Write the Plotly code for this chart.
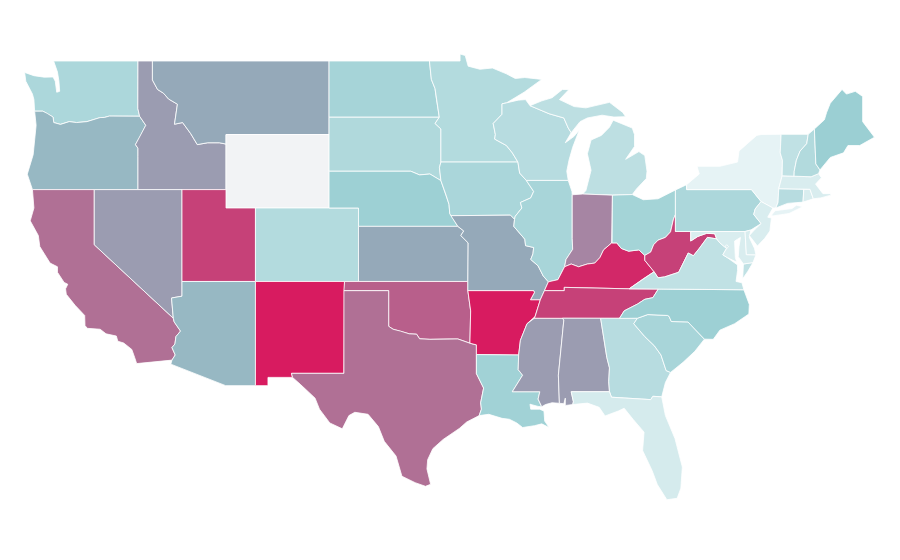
import plotly.graph_objects as go
from plotly.colors import sample_colorscale

# State shading (0-1 on the colour scale); Wyoming has no data.
states = ["WA","OR","CA","ID","NV","MT","WY","UT","AZ","CO","NM","ND","SD","NE","KS","OK","TX","MN","IA","MO","AR","LA","WI","IL","MS","MI","IN","KY","TN","AL","OH","WV","GA","FL","SC","NC","VA","PA","NY","MD","DE","NJ","CT","RI","MA","VT","NH","ME","DC"]
values = [0.31,0.46,0.70,0.545,0.545,0.50,None,0.865,0.46,0.27,1.00,0.34,0.29,0.39,0.50,0.76,0.70,0.27,0.32,0.50,1.00,0.37,0.25,0.33,0.545,0.22,0.625,0.955,0.865,0.545,0.35,0.865,0.25,0.09,0.33,0.39,0.20,0.31,0.0,0.07,0.07,0.07,0.25,0.07,0.07,0.20,0.28,0.40,0.10]
colorscale = [[0,"#e6f3f5"],[0.4,"#9bcfd3"],[0.5,"#95a9b9"],[1,"#d81b60"]]
nodata_color = "#f2f3f5"

# State outlines as (longitude, latitude) rings, approximated by hand.
outlines = {
"WA":[[(-122.76,49),(-117.03,49),(-117.04,46.42),(-116.92,45.995),(-118.98,46),(-119.3,45.93),(-119.6,45.92),(-120.5,45.7),(-121.2,45.65),(-121.7,45.7),(-122.3,45.55),(-122.75,45.65),(-122.8,45.95),(-123.2,46.15),(-123.5,46.27),(-124.05,46.27),(-124.05,46.7),(-124.1,46.9),(-124.2,47.2),(-124.65,47.9),(-124.73,48.38),(-124.1,48.2),(-123.4,48.12),(-122.8,48.13),(-122.65,47.9),(-122.55,47.3),(-122.35,47.35),(-122.4,47.9),(-122.5,48.4)]],
"OR":[[(-124.05,46.27),(-123.5,46.27),(-123.2,46.15),(-122.8,45.95),(-122.75,45.65),(-122.3,45.55),(-121.7,45.7),(-121.2,45.65),(-120.5,45.7),(-119.6,45.92),(-119.3,45.93),(-118.98,46),(-116.92,45.995),(-116.5,45.5),(-116.85,44.95),(-117.2,44.45),(-117.03,44.25),(-117.03,43.8),(-117.03,42),(-124.2,42),(-124.55,42.84),(-124.15,43.9),(-124.05,44.7),(-123.95,45.5)]],
"CA":[[(-124.2,42),(-120,42),(-120,39),(-114.63,35),(-114.57,34.8),(-114.14,34.3),(-114.45,34),(-114.52,33.6),(-114.72,33.4),(-114.5,33),(-114.72,32.72),(-117.12,32.53),(-117.25,32.85),(-117.45,33.3),(-118,33.65),(-118.4,33.75),(-118.5,34.03),(-119.2,34.15),(-119.6,34.4),(-120.47,34.45),(-120.63,34.6),(-120.65,35.15),(-121.3,35.7),(-121.9,36.3),(-121.95,36.6),(-121.8,36.85),(-122.05,36.95),(-122.5,37.5),(-122.5,37.8),(-123,38),(-123.7,38.9),(-123.8,39.5),(-124.35,40.3),(-124.1,41)]],
"NV":[[(-120,42),(-114.04,42),(-114.04,36.2),(-114.75,36.1),(-114.63,35),(-120,39)]],
"ID":[[(-117.03,49),(-116.05,49),(-116.05,47.97),(-115.7,47.45),(-115.3,47.25),(-114.95,46.93),(-114.35,46.65),(-114.45,46.15),(-114.55,45.56),(-114,45.65),(-113.45,45.05),(-113,44.45),(-112.3,44.55),(-111.5,44.55),(-111.05,44.48),(-111.05,42),(-114.04,42),(-117.03,42),(-117.03,43.8),(-117.03,44.25),(-117.2,44.45),(-116.85,44.95),(-116.5,45.5),(-116.92,45.995),(-117.04,46.42)]],
"MT":[[(-116.05,49),(-104.05,49),(-104.05,45),(-111.05,45),(-111.05,44.48),(-111.5,44.55),(-112.3,44.55),(-113,44.45),(-113.45,45.05),(-114,45.65),(-114.55,45.56),(-114.45,46.15),(-114.35,46.65),(-114.95,46.93),(-115.3,47.25),(-115.7,47.45),(-116.05,47.97)]],
"WY":[[(-111.05,45),(-104.05,45),(-104.05,41),(-111.05,41)]],
"UT":[[(-114.04,42),(-111.05,42),(-111.05,41),(-109.05,41),(-109.05,37),(-114.04,37)]],
"AZ":[[(-114.04,37),(-109.05,37),(-109.05,31.33),(-111.07,31.33),(-114.8,32.5),(-114.72,32.72),(-114.5,33),(-114.72,33.4),(-114.52,33.6),(-114.45,34),(-114.14,34.3),(-114.57,34.8),(-114.63,35),(-114.75,36.1),(-114.04,36.2)]],
"CO":[[(-109.05,41),(-102.05,41),(-102.05,37),(-109.05,37)]],
"NM":[[(-109.05,37),(-103,37),(-103.04,32),(-106.6,32),(-106.53,31.78),(-108.2,31.78),(-108.2,31.33),(-109.05,31.33)]],
"TX":[[(-103.04,36.5),(-100,36.5),(-100,34.56),(-99.7,34.4),(-99.2,34.3),(-98.6,34.15),(-98.1,34.13),(-97.9,33.88),(-97.2,33.85),(-96.6,33.85),(-95.9,33.87),(-95.3,33.87),(-94.48,33.64),(-94.04,33.55),(-94.04,33.02),(-94.04,31.99),(-93.55,31.2),(-93.75,30.4),(-93.7,30.05),(-93.85,29.7),(-94.7,29.35),(-95.2,29),(-96.3,28.4),(-97,27.9),(-97.35,27.3),(-97.4,26.8),(-97.15,25.96),(-97.5,25.85),(-98.2,26.05),(-99.1,26.4),(-99.5,27.5),(-100.3,28.3),(-100.7,29.1),(-101.4,29.77),(-102.3,29.88),(-102.7,29.7),(-103.15,28.98),(-104,29.3),(-104.7,30.05),(-105,30.65),(-106,31.4),(-106.53,31.78),(-106.6,32),(-103.04,32)]],
"OK":[[(-103,37),(-94.62,37),(-94.62,36.5),(-94.43,35.4),(-94.48,33.64),(-95.3,33.87),(-95.9,33.87),(-96.6,33.85),(-97.2,33.85),(-97.9,33.88),(-98.1,34.13),(-98.6,34.15),(-99.2,34.3),(-99.7,34.4),(-100,34.56),(-100,36.5),(-103.04,36.5)]],
"KS":[[(-102.05,40),(-95.3,40),(-94.9,39.75),(-95.1,39.5),(-94.6,39.1),(-94.62,37),(-102.05,37)]],
"NE":[[(-104.05,43),(-98.5,43),(-97.9,42.8),(-97.2,42.85),(-96.45,42.49),(-96.1,41.7),(-95.9,41.2),(-95.85,40.7),(-95.3,40),(-102.05,40),(-102.05,41),(-104.05,41)]],
"SD":[[(-104.05,45.94),(-96.56,45.94),(-96.85,45.6),(-96.45,45.3),(-96.45,43.5),(-96.55,43.2),(-96.45,42.49),(-97.2,42.85),(-97.9,42.8),(-98.5,43),(-104.05,43)]],
"ND":[[(-104.05,49),(-97.23,49),(-97.1,48),(-96.85,47.5),(-96.75,46.9),(-96.56,45.94),(-104.05,45.94)]],
"MN":[[(-97.23,49),(-95.15,49),(-95.15,49.38),(-94.8,49.3),(-94.6,48.72),(-93.8,48.55),(-92.95,48.62),(-92,48.3),(-91.4,48.05),(-90.75,48.1),(-89.6,48),(-90.8,47.3),(-92,46.72),(-92.3,46.67),(-92.3,46.1),(-92.9,45.6),(-92.75,45),(-92.8,44.75),(-92,44.4),(-91.6,44),(-91.22,43.5),(-96.45,43.5),(-96.45,45.3),(-96.85,45.6),(-96.56,45.94),(-96.75,46.9),(-96.85,47.5),(-97.1,48)]],
"IA":[[(-96.45,43.5),(-91.22,43.5),(-91.1,42.9),(-90.65,42.5),(-90.15,41.9),(-90.35,41.55),(-91.05,41.3),(-90.95,41),(-91.4,40.55),(-91.45,40.38),(-91.73,40.61),(-95.77,40.58),(-95.85,40.7),(-95.9,41.2),(-96.1,41.7),(-96.45,42.49),(-96.55,43.2)]],
"MO":[[(-95.77,40.58),(-91.73,40.61),(-91.45,40.38),(-91.5,40),(-90.75,39.3),(-90.7,38.95),(-90.15,38.85),(-90.2,38.5),(-90.35,38.2),(-89.85,37.85),(-89.5,37.3),(-89.15,36.98),(-89.42,36.5),(-89.7,36),(-90.37,36),(-90.1,36.4),(-90.15,36.5),(-94.62,36.5),(-94.62,37),(-94.6,39.1),(-95.1,39.5),(-94.9,39.75),(-95.3,40)]],
"AR":[[(-94.62,36.5),(-90.15,36.5),(-90.1,36.4),(-90.37,36),(-89.7,36),(-90.05,35.1),(-90.6,34.7),(-91.05,33.8),(-91.17,33),(-94.04,33.02),(-94.04,33.55),(-94.48,33.64),(-94.43,35.4)]],
"LA":[[(-94.04,33.02),(-91.17,33),(-91.2,32.2),(-90.9,31.9),(-91.6,31),(-89.73,31),(-89.85,30.6),(-89.6,30.18),(-89.85,30.2),(-90.4,30.32),(-90.35,30.05),(-89.75,30.05),(-89.45,29.95),(-89.4,29.4),(-89.1,29.05),(-89.6,29.25),(-90.1,29.15),(-90.9,29.05),(-91.3,29.3),(-91.8,29.5),(-92.3,29.55),(-93.2,29.77),(-93.85,29.7),(-93.7,30.05),(-93.75,30.4),(-93.55,31.2),(-94.04,31.99)]],
"MS":[[(-90.1,35),(-88.2,35),(-88.1,34.9),(-88.47,31.9),(-88.4,30.37),(-88.9,30.4),(-89.35,30.3),(-89.6,30.18),(-89.85,30.6),(-89.73,31),(-91.6,31),(-90.9,31.9),(-91.2,32.2),(-91.17,33),(-91.05,33.8),(-90.6,34.7)]],
"AL":[[(-88.2,35),(-85.6,35),(-85.18,32.87),(-85,32.3),(-85.05,31.55),(-85,31),(-87.6,31),(-87.45,30.45),(-87.5,30.3),(-88,30.25),(-88,30.65),(-88.1,30.35),(-88.4,30.37),(-88.47,31.9),(-88.1,34.9)]],
"TN":[[(-90.1,35),(-90.05,35.1),(-89.7,36),(-89.42,36.5),(-88.07,36.5),(-88.07,36.68),(-83.67,36.6),(-81.68,36.59),(-82.05,36.12),(-82.6,36.03),(-83.1,35.77),(-84,35.4),(-84.32,34.99),(-85.6,35),(-88.2,35)]],
"KY":[[(-89.42,36.5),(-89.15,36.98),(-88.5,37.1),(-88.05,37.8),(-87.6,37.95),(-87.1,37.8),(-86.5,37.95),(-86,38),(-85.65,38.3),(-85.4,38.72),(-84.85,39.1),(-84.5,39.1),(-84.2,38.8),(-83.7,38.65),(-83,38.72),(-82.6,38.42),(-82.6,38.15),(-81.97,37.53),(-82.7,37.15),(-83.67,36.6),(-88.07,36.68),(-88.07,36.5)]],
"WV":[[(-82.6,38.42),(-82.2,38.6),(-82,39),(-81.7,39.25),(-81.2,39.4),(-80.85,39.7),(-80.65,40.4),(-80.52,40.64),(-80.52,39.72),(-79.48,39.72),(-79.48,39.2),(-79,39.45),(-78.4,39.62),(-77.85,39.6),(-77.72,39.32),(-78.35,39.4),(-78.9,38.8),(-79.3,38.4),(-79.65,38.55),(-80.3,37.5),(-81.25,37.25),(-81.7,37.2),(-81.97,37.53),(-82.6,38.15)]],
"OH":[[(-84.8,41.7),(-83.45,41.73),(-82.7,41.45),(-81.7,41.5),(-80.52,41.98),(-80.52,40.64),(-80.65,40.4),(-80.85,39.7),(-81.2,39.4),(-81.7,39.25),(-82,39),(-82.2,38.6),(-82.6,38.42),(-83,38.72),(-83.7,38.65),(-84.2,38.8),(-84.5,39.1),(-84.82,39.1)]],
"IN":[[(-87.53,41.72),(-87.2,41.75),(-86.82,41.76),(-84.8,41.7),(-84.82,39.1),(-84.85,39.1),(-85.4,38.72),(-85.65,38.3),(-86,38),(-86.5,37.95),(-87.1,37.8),(-87.6,37.95),(-88.05,37.8),(-87.95,38.2),(-87.5,38.75),(-87.53,39.35)]],
"IL":[[(-90.65,42.5),(-87.8,42.5),(-87.55,41.9),(-87.53,41.72),(-87.53,39.35),(-87.5,38.75),(-87.95,38.2),(-88.05,37.8),(-88.5,37.1),(-89.15,36.98),(-89.5,37.3),(-89.85,37.85),(-90.35,38.2),(-90.2,38.5),(-90.15,38.85),(-90.7,38.95),(-90.75,39.3),(-91.5,40),(-91.45,40.38),(-91.4,40.55),(-90.95,41),(-91.05,41.3),(-90.35,41.55),(-90.15,41.9)]],
"WI":[[(-92,46.72),(-91.2,46.87),(-90.7,46.9),(-90.4,46.57),(-89.1,46.13),(-88.1,45.9),(-87.8,45.35),(-87.6,45.1),(-88,44.55),(-87.4,44.9),(-87.05,45.25),(-87.5,44.3),(-87.75,43.6),(-87.9,43),(-87.8,42.5),(-90.65,42.5),(-91.1,42.9),(-91.22,43.5),(-91.6,44),(-92,44.4),(-92.8,44.75),(-92.75,45),(-92.9,45.6),(-92.3,46.1),(-92.3,46.67)]],
"MI":[[(-86.82,41.76),(-84.8,41.7),(-83.45,41.73),(-83.15,42.05),(-82.5,42.6),(-82.45,43),(-82.6,43.85),(-83,44.07),(-83.9,43.65),(-83.55,44.05),(-83.3,44.35),(-83.3,45),(-83.45,45.35),(-84.75,45.78),(-85,45.4),(-85.55,44.95),(-86.25,44.7),(-86.5,43.95),(-86.25,43.05),(-86.6,41.95)],
      [(-90.4,46.57),(-89.6,46.83),(-88.9,47),(-88.2,47.45),(-87.75,47.45),(-88.4,46.9),(-87.4,46.52),(-86.6,46.45),(-85,46.75),(-84.5,46.45),(-84.1,46.2),(-83.9,45.97),(-84.7,45.95),(-85.5,46.05),(-86.5,45.9),(-87,45.7),(-87.6,45.1),(-87.8,45.35),(-88.1,45.9),(-89.1,46.13)]],
"PA":[[(-80.52,41.98),(-79.76,42.27),(-79.76,42),(-75.35,42),(-74.7,41.35),(-75.1,40.95),(-75.2,40.65),(-74.7,40.15),(-75.4,39.8),(-75.79,39.72),(-80.52,39.72)]],
"NY":[[(-79.76,42.27),(-78.9,42.85),(-79.05,43.27),(-77.5,43.27),(-76.3,43.5),(-76.2,44.1),(-75,44.95),(-74.7,45),(-73.34,45.01),(-73.4,44),(-73.25,43.6),(-73.27,42.75),(-73.5,42.05),(-73.55,41.3),(-73.7,41),(-73.9,41),(-74.7,41.35),(-75.35,42),(-79.76,42)],
      [(-74,40.6),(-73.75,40.85),(-72.6,40.97),(-72.3,41.15),(-71.87,41.07),(-72.8,40.7),(-73.9,40.57)]],
"NJ":[[(-74.7,41.35),(-73.9,41),(-74.25,40.5),(-74,40.45),(-74.1,39.75),(-74.45,39.35),(-74.95,38.93),(-75.5,39.5),(-75.1,39.85),(-74.7,40.15),(-75.2,40.65),(-75.1,40.95)]],
"DE":[[(-75.4,39.8),(-75.79,39.72),(-75.7,38.46),(-75.05,38.45),(-75.15,38.8),(-75.5,39.4)]],
"MD":[[(-79.48,39.72),(-75.79,39.72),(-75.7,38.46),(-75.05,38.45),(-75.25,38.03),(-75.9,37.95),(-76.25,38.35),(-76.2,38.9),(-76.1,39.4),(-76.5,39.2),(-76.45,38.3),(-76.35,38.05),(-77,38.3),(-77.3,38.45),(-77.05,38.8),(-77.5,39.1),(-77.72,39.32),(-77.85,39.6),(-78.4,39.62),(-79,39.45),(-79.48,39.2)]],
"DC":[[(-77.12,38.93),(-77.04,39),(-76.91,38.89),(-77.04,38.79)]],
"VA":[[(-83.67,36.6),(-81.68,36.59),(-75.87,36.55),(-76,36.93),(-76.4,37),(-76.3,37.6),(-76.3,37.9),(-77,38.3),(-77.3,38.45),(-77.05,38.8),(-77.5,39.1),(-77.72,39.32),(-78.35,39.4),(-78.9,38.8),(-79.3,38.4),(-79.65,38.55),(-80.3,37.5),(-81.25,37.25),(-81.7,37.2),(-81.97,37.53),(-82.7,37.15)],
      [(-75.25,38.03),(-75.9,37.95),(-75.95,37.15),(-75.6,37.55)]],
"NC":[[(-84.32,34.99),(-84,35.4),(-83.1,35.77),(-82.6,36.03),(-82.05,36.12),(-81.68,36.59),(-75.87,36.55),(-75.5,35.75),(-75.53,35.23),(-76.5,34.7),(-77.5,34.35),(-77.95,33.85),(-78.55,33.86),(-79.67,34.8),(-80.8,34.82),(-80.95,35.1),(-81.05,35.15),(-82.4,35.2),(-83.1,35)]],
"SC":[[(-83.1,35),(-82.4,35.2),(-81.05,35.15),(-80.95,35.1),(-80.8,34.82),(-79.67,34.8),(-78.55,33.86),(-79.2,33.2),(-80,32.6),(-80.85,32.05),(-81.15,32.15),(-81.5,33),(-81.95,33.5),(-82.6,34),(-83.35,34.7)]],
"GA":[[(-85.6,35),(-84.32,34.99),(-83.1,35),(-83.35,34.7),(-82.6,34),(-81.95,33.5),(-81.5,33),(-81.15,32.15),(-80.85,32.05),(-81.2,31.5),(-81.45,30.72),(-82.05,30.75),(-82.2,30.57),(-84.86,30.7),(-85,31),(-85.05,31.55),(-85,32.3),(-85.18,32.87)]],
"FL":[[(-87.6,31),(-85,31),(-84.86,30.7),(-82.2,30.57),(-82.05,30.75),(-81.45,30.72),(-81.2,29.7),(-80.55,28.45),(-80.05,26.9),(-80.15,25.75),(-80.4,25.2),(-81.1,25.12),(-81.75,25.95),(-82.1,26.7),(-82.75,27.8),(-82.65,28.8),(-83.4,29.5),(-84,30.1),(-84.4,29.95),(-85.3,29.68),(-85.7,30.15),(-86.5,30.38),(-87.5,30.3),(-87.45,30.45)]],
"CT":[[(-73.5,42.05),(-71.8,42.02),(-71.85,41.32),(-72.9,41.25),(-73.7,41),(-73.55,41.3)]],
"RI":[[(-71.8,42.02),(-71.38,42.02),(-71.15,41.5),(-71.85,41.32)]],
"MA":[[(-73.5,42.05),(-73.27,42.75),(-72.46,42.73),(-71.3,42.7),(-70.8,42.87),(-70.6,42.65),(-71,42.3),(-70.65,41.95),(-70.5,41.78),(-70,41.78),(-70.1,42.05),(-69.95,41.7),(-70.65,41.55),(-71.15,41.5),(-71.38,42.02),(-71.8,42.02)]],
"VT":[[(-73.34,45.01),(-71.5,45.01),(-71.6,44.5),(-72.05,44.1),(-72.3,43.6),(-72.45,43),(-72.46,42.73),(-73.27,42.75),(-73.25,43.6),(-73.4,44)]],
"NH":[[(-71.5,45.01),(-71.08,45.3),(-70.98,43.4),(-70.7,43.07),(-70.8,42.87),(-71.3,42.7),(-72.46,42.73),(-72.45,43),(-72.3,43.6),(-72.05,44.1),(-71.6,44.5)]],
"ME":[[(-71.08,45.3),(-70.4,45.8),(-70.25,46.2),(-70,46.7),(-69.2,47.45),(-68.9,47.2),(-68.3,47.35),(-67.8,47.07),(-67.8,45.7),(-67.45,45.3),(-67,44.85),(-68,44.4),(-68.8,44.4),(-69.1,44),(-70,43.75),(-70.7,43.07),(-70.98,43.4)]],
}

fig = go.Figure()
for state, value in zip(states, values):
    lons, lats = [], []
    for ring in outlines[state]:
        lons += [p[0] for p in ring] + [ring[0][0], None]
        lats += [p[1] for p in ring] + [ring[0][1], None]
    color = nodata_color if value is None else sample_colorscale(colorscale, [value])[0]
    fig.add_trace(go.Scatter(x=lons, y=lats, mode="lines", fill="toself", fillcolor=color,
                             line=dict(color="white", width=0.8), name=state, hoverinfo="name"))

fig.update_layout(width=900, height=560, margin=dict(l=0, r=0, t=0, b=0), showlegend=False,
                  paper_bgcolor="white", plot_bgcolor="white",
                  xaxis=dict(visible=False, range=[-125.86, -64.72]),
                  yaxis=dict(visible=False, range=[21.405, 51.885]))
fig.write_html("out.html")
